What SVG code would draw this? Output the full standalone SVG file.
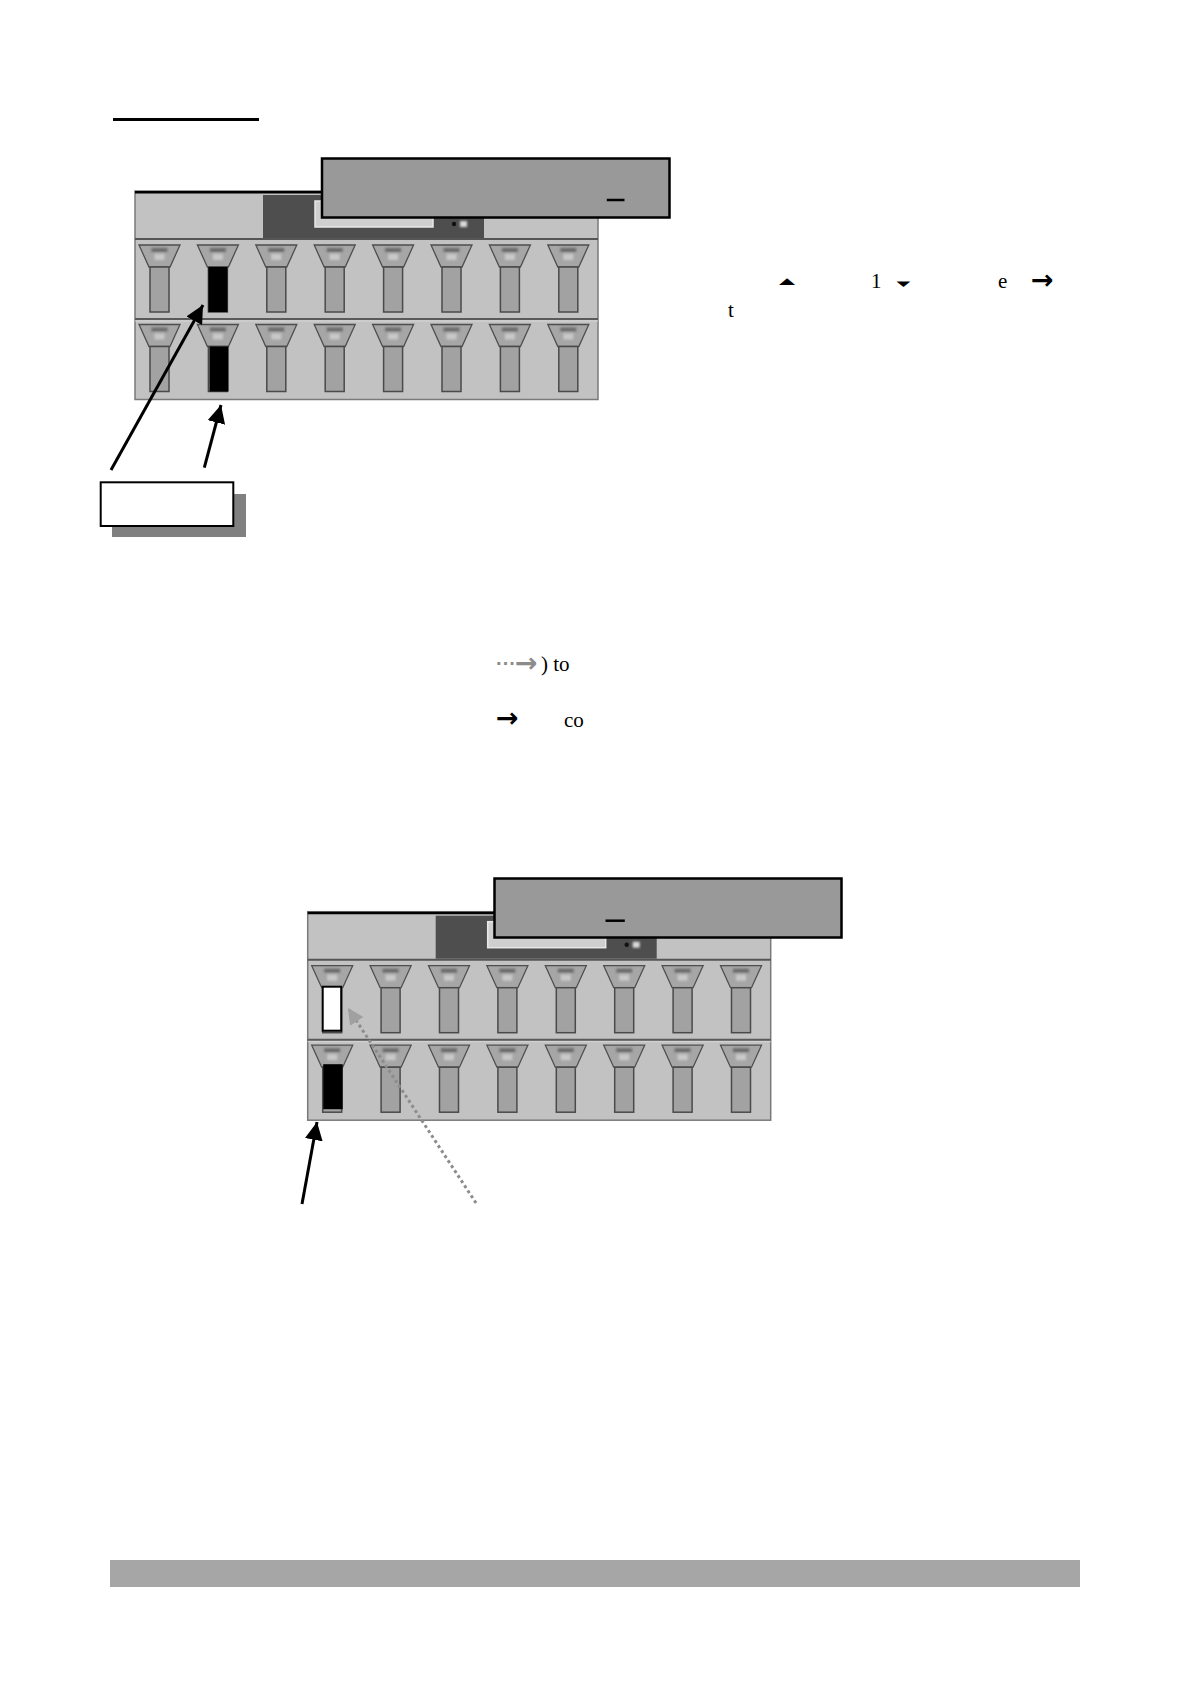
<svg xmlns="http://www.w3.org/2000/svg" xmlns:xlink="http://www.w3.org/1999/xlink" width="1190" height="1684" viewBox="0 0 1190 1684">
<style>
.txt{font-family:"Liberation Serif","Times New Roman",serif;font-size:21px;fill:#000}
.sym{font-family:"DejaVu Sans",sans-serif;fill:#000}
.arw{font-family:"DejaVu Sans",sans-serif;font-weight:bold;font-size:27px}
.panel{fill:#c2c2c2;stroke:#7a7a7a;stroke-width:1.5}
.trap{fill:#a6a6a6;stroke:#4e4e4e;stroke-width:1.3}
.stem{fill:#a2a2a2;stroke:#4a4a4a;stroke-width:1.5}
.gbox{fill:#999999;stroke:#000;stroke-width:2.5}
.conn{stroke:#000;stroke-width:3;fill:none}
.dots{stroke:#8c8c8c;stroke-width:3;fill:none;stroke-dasharray:3 3}
</style>
<defs>
<filter id="soft" x="-50%" y="-50%" width="200%" height="200%"><feGaussianBlur stdDeviation="0.8"/></filter>
<marker id="ah" markerUnits="userSpaceOnUse" markerWidth="20" markerHeight="18" refX="18" refY="9" orient="auto">
<path d="M0,0 L18,9 L0,18 z" fill="#000"/>
</marker>
<marker id="ahg" markerUnits="userSpaceOnUse" markerWidth="18" markerHeight="16" refX="16" refY="8" orient="auto">
<path d="M0,0 L16,8 L0,16 z" fill="#a0a0a0"/>
</marker>
<g id="pedal">
<path class="trap" d="M-20.5,5 L20.5,5 L10.5,27 L-10.5,27 z"/>
<g filter="url(#soft)">
<rect x="-8" y="8" width="16" height="4" fill="#3a3a3a" opacity="0.55"/>
<rect x="-5" y="14" width="10" height="6" fill="#e6e6e6" opacity="0.55"/>
</g>
<rect class="stem" x="-9.5" y="27" width="19" height="45"/>
</g>
<g id="panelbase">
<rect class="panel" x="0" y="0" width="463" height="208.5"/>
<line x1="0" y1="1.2" x2="463" y2="1.2" stroke="#000" stroke-width="2.5"/>
<rect x="128" y="4" width="221" height="43" fill="#4e4e4e"/>
<rect x="180" y="10" width="118" height="26" fill="#cfcfcf" stroke="#e8e8e8" stroke-width="1.5"/>
<circle cx="319" cy="33" r="2.2" fill="#111"/>
<rect x="325" y="30" width="7" height="6" fill="#d8d8d8" filter="url(#soft)"/>
<line x1="0" y1="48" x2="463" y2="48" stroke="#555" stroke-width="2"/>
<line x1="0" y1="128" x2="463" y2="128" stroke="#5a5a5a" stroke-width="2"/>
<line x1="0" y1="130" x2="463" y2="130" stroke="#d6d6d6" stroke-width="1"/>
<use xlink:href="#pedal" x="24.5" y="49"/>
<use xlink:href="#pedal" x="82.9" y="49"/>
<use xlink:href="#pedal" x="141.3" y="49"/>
<use xlink:href="#pedal" x="199.7" y="49"/>
<use xlink:href="#pedal" x="258.1" y="49"/>
<use xlink:href="#pedal" x="316.5" y="49"/>
<use xlink:href="#pedal" x="374.9" y="49"/>
<use xlink:href="#pedal" x="433.3" y="49"/>
<use xlink:href="#pedal" x="24.5" y="128.5"/>
<use xlink:href="#pedal" x="82.9" y="128.5"/>
<use xlink:href="#pedal" x="141.3" y="128.5"/>
<use xlink:href="#pedal" x="199.7" y="128.5"/>
<use xlink:href="#pedal" x="258.1" y="128.5"/>
<use xlink:href="#pedal" x="316.5" y="128.5"/>
<use xlink:href="#pedal" x="374.9" y="128.5"/>
<use xlink:href="#pedal" x="433.3" y="128.5"/>
</g>
</defs>
<rect x="0" y="0" width="1190" height="1684" fill="#fff"/>

<g id="heading-rule">
<line x1="113" y1="119.5" x2="259" y2="119.5" stroke="#000" stroke-width="3"/>
</g>

<g id="panel1" transform="translate(135,191)">
<use xlink:href="#panelbase"/>
<rect x="73.4" y="76" width="19" height="45" fill="#000"/>
<rect x="74.5" y="155.5" width="19" height="45" fill="#000"/>
</g>

<g id="display1">
<rect class="gbox" x="322" y="158.5" width="347.5" height="59"/>
<line x1="606.8" y1="200" x2="624.5" y2="200" stroke="#000" stroke-width="2.5"/>
</g>

<g id="label1">
<rect x="112" y="494" width="134" height="43" fill="#808080"/>
<rect x="100.7" y="482.3" width="132.6" height="43.7" fill="#fff" stroke="#000" stroke-width="2"/>
</g>

<g id="text1">
<text class="sym" font-size="21" transform="translate(779,283.5) scale(1,0.42)">▲</text>
<text class="txt" x="871" y="288">1</text>
<text class="sym" font-size="18" transform="translate(896.5,286) scale(1,0.4)">▼</text>
<text class="txt" x="998" y="288">e</text>
<text class="arw" x="1031" y="288.5" fill="#000">→</text>
<text class="txt" x="728" y="316.5">t</text>
</g>

<g id="text2">
<text x="496" y="670" font-family="Liberation Sans, Arial, sans-serif" font-weight="bold" font-size="20" fill="#8c8c8c">···</text>
<text class="arw" x="515" y="671.5" fill="#8c8c8c">→</text>
<text class="txt" x="541" y="670.5">) to</text>
<text class="arw" x="496" y="727" fill="#000">→</text>
<text class="txt" x="564" y="726.5">co</text>
</g>

<g id="panel2" transform="translate(307.7,911.7)">
<use xlink:href="#panelbase"/>
<rect x="15" y="75" width="18.5" height="44" fill="#fff" stroke="#000" stroke-width="2"/>
<rect x="15.5" y="152.5" width="19.5" height="45" fill="#000"/>
</g>

<g id="display2">
<rect class="gbox" x="494.5" y="878.5" width="347" height="59"/>
<line x1="605.5" y1="920.7" x2="624.8" y2="920.7" stroke="#000" stroke-width="2.5"/>
</g>

<g id="connectors">
<line class="conn" x1="111" y1="470" x2="203" y2="305" marker-end="url(#ah)"/>
<line class="conn" x1="204.3" y1="467.7" x2="221" y2="405" marker-end="url(#ah)"/>
<line class="conn" x1="302" y1="1204" x2="317" y2="1122" marker-end="url(#ah)"/>
<line class="dots" x1="476" y1="1203" x2="348" y2="1008" marker-end="url(#ahg)"/>
</g>

<g id="footer-bar">
<rect x="110" y="1560" width="970" height="27" fill="#a6a6a6"/>
</g>
</svg>
